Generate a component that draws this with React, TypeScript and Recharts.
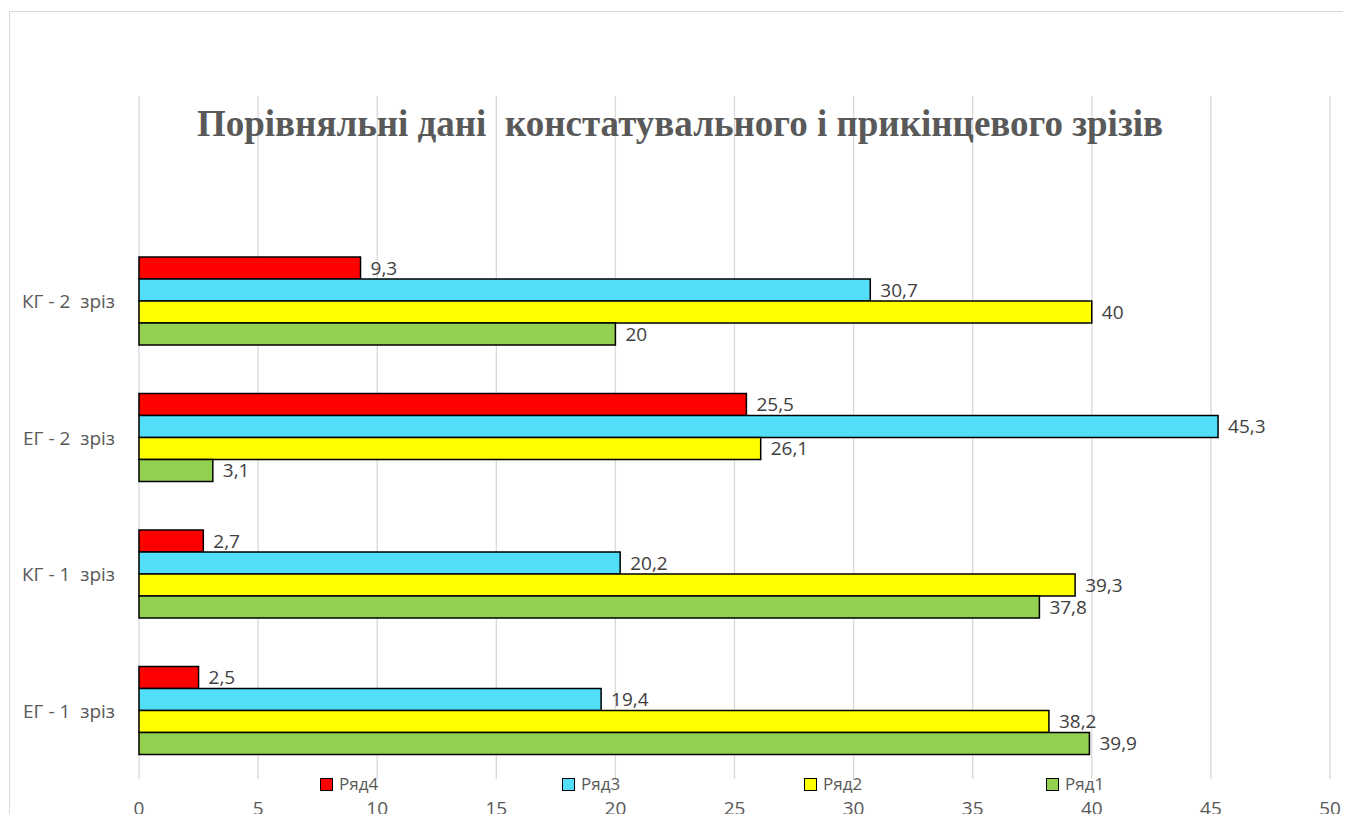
import React from 'react';
import { BarChart, Bar, XAxis, YAxis, CartesianGrid, Legend, LabelList } from 'recharts';

const categories = ['КГ - 2  зріз', 'ЕГ - 2  зріз', 'КГ - 1  зріз', 'ЕГ - 1  зріз'];
const ryad1 = [20, 3.1, 37.8, 39.9];
const ryad2 = [40, 26.1, 39.3, 38.2];
const ryad3 = [30.7, 45.3, 20.2, 19.4];
const ryad4 = [9.3, 25.5, 2.7, 2.5];
const xTicks = [0, 5, 10, 15, 20, 25, 30, 35, 40, 45, 50];

// bars listed top to bottom inside each group, same order as the legend
const series = [
  { key: 'r4', name: 'Ряд4', color: '#FF0000' },
  { key: 'r3', name: 'Ряд3', color: '#52DEF8' },
  { key: 'r2', name: 'Ряд2', color: '#FFFF00' },
  { key: 'r1', name: 'Ряд1', color: '#92D050' },
];

const data = categories.map((name, i) => ({
  name,
  r1: ryad1[i],
  r2: ryad2[i],
  r3: ryad3[i],
  r4: ryad4[i],
}));

const FONT = '"Open Sans", "Noto Sans", sans-serif';
const fmt = (v: any) => String(v).replace('.', ',');

const CategoryTick = ({ x, y, payload }: any) => (
  <text x={x} y={y} dy={7} textAnchor="end" fill="#595959" fontSize={19} fontFamily={FONT} style={{ whiteSpace: 'pre' }}>
    {payload.value}
  </text>
);

const LegendContent = () => (
  <div style={{ position: 'relative', height: 20, fontFamily: FONT }}>
    {series.map((s, i) => (
      <div key={s.key} style={{ position: 'absolute', left: 320 + i * 242, top: 0, display: 'flex', alignItems: 'center' }}>
        <span style={{ width: 11, height: 11, background: s.color, border: '1.5px solid #000', display: 'inline-block', marginRight: 6 }} />
        <span style={{ fontSize: 17, color: '#595959', lineHeight: '20px' }}>{s.name}</span>
      </div>
    ))}
  </div>
);

const App: React.FC = () => {
  return (
    <div style={{ position: 'relative', width: 1351, height: 822, margin: -8, overflow: 'hidden', background: '#fff' }}>
      <div style={{ position: 'absolute', left: 9, top: 11, width: 1400, height: 900, border: '1px solid #d9d9d9' }} />
      <BarChart
        width={1351}
        height={822}
        data={data}
        layout="vertical"
        barSize={22}
        barGap={0}
        margin={{ top: 96, right: 21, bottom: 13, left: 0 }}
      >
        <CartesianGrid horizontal={false} stroke="#d9d9d9" strokeWidth={1.3} />
        <XAxis
          type="number"
          domain={[0, 50]}
          ticks={xTicks}
          axisLine={false}
          tickLine={false}
          tickSize={0}
          tickMargin={23}
          height={30}
          tick={{ fontSize: 19, fill: '#595959', fontFamily: FONT }}
        />
        <YAxis
          type="category"
          dataKey="name"
          width={139}
          axisLine={false}
          tickLine={false}
          tickSize={0}
          tickMargin={24}
          padding={{ top: 137, bottom: 0 }}
          tick={<CategoryTick />}
        />
        <Legend verticalAlign="middle" layout="horizontal" content={<LegendContent />} wrapperStyle={{ top: 774, left: 0, width: 1351 }} />
        {series.map((s) => (
          <Bar key={s.key} dataKey={s.key} name={s.name} fill={s.color} stroke="#000" strokeWidth={1.5} isAnimationActive={false}>
            <LabelList dataKey={s.key} position="right" offset={10} formatter={fmt} fill="#404040" fontSize={19} fontFamily={FONT} />
          </Bar>
        ))}
      </BarChart>
      <svg width={1351} height={822} style={{ position: 'absolute', left: 0, top: 0, pointerEvents: 'none' }}>
        <text x={680} y={136} textAnchor="middle" fontFamily='"Liberation Serif", "Times New Roman", serif' fontWeight="bold" fontSize={37} fill="#595959" style={{ whiteSpace: 'pre' }}>
          Порівняльні дані  констатувального і прикінцевого зрізів
        </text>
      </svg>
    </div>
  );
};

export default App;
